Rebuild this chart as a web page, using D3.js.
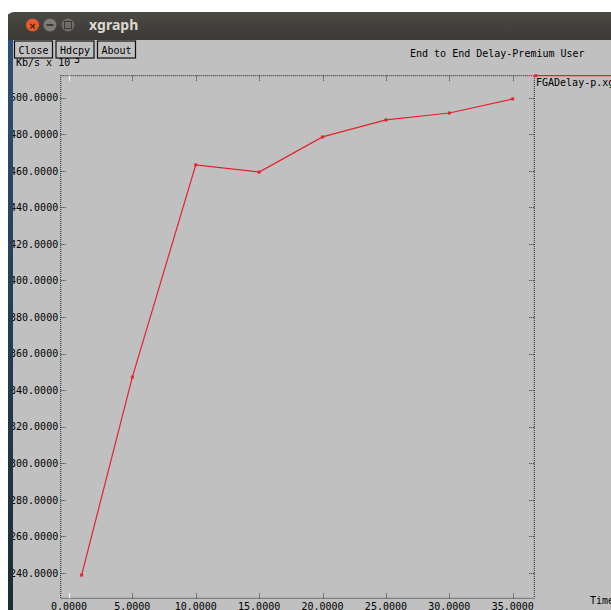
<!DOCTYPE html>
<html>
<head>
<meta charset="utf-8">
<script src="https://cdn.jsdelivr.net/npm/d3@7"></script>
<style>
  html, body { margin: 0; padding: 0; background: #ffffff; }
  svg { display: block; }
  .mono { font-family: "DejaVu Sans Mono", "Liberation Mono", monospace; font-size: 10px; fill: #000; }
</style>
</head>
<body>
<script>
// Series: time (s) vs end-to-end delay, premium user
const times  = [1, 5, 10, 15, 20, 25, 30, 35];
const delays = [238.8, 347.1, 463.2, 459.3, 478.5, 487.8, 491.6, 499.3];

const xTicks = [0, 5, 10, 15, 20, 25, 30, 35];
const yTicks = [240, 260, 280, 300, 320, 340, 360, 380, 400, 420, 440, 460, 480, 500];

const chartTitle = "End to End Delay-Premium User";
const yUnit = "Kb/s x 10";
const yUnitExp = "3";
const xUnit = "Time";
const seriesName = "FGADelay-p.xg";
const windowTitle = "xgraph";
const buttons = ["Close", "Hdcpy", "About"];

const W = 611, H = 610;
const svg = d3.select("body").append("svg").attr("width", W).attr("height", H);

// Desktop strip at the left and window frame
const defs = svg.append("defs");
const desk = defs.append("linearGradient").attr("id", "desk").attr("x1", 0).attr("y1", 0).attr("x2", 0).attr("y2", 1);
desk.append("stop").attr("offset", "0%").attr("stop-color", "#2d4f78");
desk.append("stop").attr("offset", "100%").attr("stop-color", "#1c2c33");
const bar = defs.append("linearGradient").attr("id", "bar").attr("x1", 0).attr("y1", 0).attr("x2", 0).attr("y2", 1);
bar.append("stop").attr("offset", "0%").attr("stop-color", "#4a4944");
bar.append("stop").attr("offset", "100%").attr("stop-color", "#3a3935");
defs.append("clipPath").attr("id", "win").append("rect")
  .attr("x", 13).attr("y", 40).attr("width", W - 13).attr("height", H - 40);

svg.append("rect").attr("x", 8).attr("y", 14).attr("width", 6).attr("height", H - 14).attr("fill", "url(#desk)");
svg.append("path")
  .attr("d", `M8,${40} L8,18 Q8,12 14,12 L${W},12 L${W},40 Z`)
  .attr("fill", "url(#bar)");
svg.append("rect").attr("x", 13).attr("y", 40).attr("width", W - 13).attr("height", H - 40).attr("fill", "#c0c0c0");

// Title bar controls
svg.append("circle").attr("cx", 32.5).attr("cy", 25).attr("r", 6.5).attr("fill", "#e9592a");
svg.append("text").attr("x", 32.5).attr("y", 28.5).attr("text-anchor", "middle")
  .attr("font-family", "DejaVu Sans").attr("font-size", 9).attr("font-weight", "bold").attr("fill", "#3a1a0c").text("×");
svg.append("circle").attr("cx", 50).attr("cy", 25).attr("r", 6.5).attr("fill", "#7c7b76");
svg.append("rect").attr("x", 46.5).attr("y", 24).attr("width", 7).attr("height", 2).attr("fill", "#3b3a36");
svg.append("circle").attr("cx", 68).attr("cy", 25).attr("r", 6.5).attr("fill", "#6d6c67");
svg.append("rect").attr("x", 64.5).attr("y", 21.5).attr("width", 7).attr("height", 7).attr("fill", "none").attr("stroke", "#3b3a36");
svg.append("text").attr("x", 89).attr("y", 30).attr("font-family", "Noto Sans, DejaVu Sans").attr("font-weight", "bold")
  .attr("font-size", 14).attr("fill", "#dcd8cf").text(windowTitle);

const win = svg.append("g").attr("clip-path", "url(#win)");

// Plot frame, in data units
const xMin = -0.65, xMax = 36.7, yMin = 226.1, yMax = 512.0;
const x = d3.scaleLinear().domain([xMin, xMax]).range([60.7, 534.3]);
const y = d3.scaleLinear().domain([yMin, yMax]).range([598.3, 75.7]);

// Axis unit label (partly hidden behind the buttons)
win.append("text").attr("class", "mono").attr("x", 16).attr("y", 66).text(yUnit);
win.append("text").attr("class", "mono").attr("x", 74).attr("y", 63).attr("font-size", 8).text(yUnitExp);

// Buttons
let bx = 14.5;
const bw = [38, 38, 38];
buttons.forEach((b, i) => {
  const g = win.append("g");
  g.append("rect").attr("x", bx).attr("y", 41).attr("width", bw[i]).attr("height", 17)
    .attr("fill", "#c0c0c0").attr("stroke", "#111").attr("stroke-width", 1.2);
  g.append("text").attr("class", "mono").attr("x", bx + bw[i] / 2).attr("y", 53.5)
    .attr("text-anchor", "middle").attr("font-size", 10.5).text(b);
  bx += bw[i] + 3.5;
});

// Chart title
win.append("text").attr("class", "mono").attr("x", 410).attr("y", 57).text(chartTitle);

// Dotted frame
const dot = "1,1";
win.append("rect")
  .attr("x", x(xMin)).attr("y", y(yMax))
  .attr("width", x(xMax) - x(xMin)).attr("height", y(yMin) - y(yMax))
  .attr("fill", "none").attr("stroke", "#222").attr("stroke-dasharray", dot);

// Y ticks on both sides, with labels
yTicks.forEach(v => {
  const yy = Math.round(y(v)) + 0.5;
  win.append("line").attr("x1", x(xMin)).attr("x2", x(xMin) + 5).attr("y1", yy).attr("y2", yy)
    .attr("stroke", "#333").attr("stroke-dasharray", dot);
  win.append("line").attr("x1", x(xMax) - 5).attr("x2", x(xMax)).attr("y1", yy).attr("y2", yy)
    .attr("stroke", "#333").attr("stroke-dasharray", dot);
  win.append("text").attr("class", "mono").attr("x", x(xMin) - 2.5).attr("y", y(v) + 3.8)
    .attr("text-anchor", "end").text(d3.format(".4f")(v));
});

// X ticks on top and bottom, with labels
xTicks.forEach(v => {
  const xx = Math.round(x(v)) + 0.5;
  const col = v === 0 ? "#ffffff" : "#333";
  const dash = v === 0 ? null : dot;
  win.append("line").attr("x1", xx).attr("x2", xx).attr("y1", y(yMin)).attr("y2", y(yMin) - 5)
    .attr("stroke", col).attr("stroke-dasharray", dash);
  win.append("line").attr("x1", xx).attr("x2", xx).attr("y1", y(yMax)).attr("y2", y(yMax) + 5)
    .attr("stroke", col).attr("stroke-dasharray", dash);
  win.append("text").attr("class", "mono").attr("x", x(v)).attr("y", 609.5)
    .attr("text-anchor", "middle").text(d3.format(".4f")(v));
});

// X unit label
win.append("text").attr("class", "mono").attr("x", 590).attr("y", 604).text(xUnit);

// Data line and markers
const red = "#e5222e";
const pts = times.map((t, i) => [t, delays[i]]);
win.append("path").datum(pts)
  .attr("d", d3.line().x(d => x(d[0])).y(d => y(d[1])))
  .attr("fill", "none").attr("stroke", red).attr("stroke-width", 1.2);
win.selectAll("rect.pt").data(pts).enter().append("rect").attr("class", "pt")
  .attr("x", d => x(d[0]) - 1.5).attr("y", d => y(d[1]) - 1.5)
  .attr("width", 3).attr("height", 3).attr("fill", red);

// Legend
const ly = y(yMax);
win.append("line").attr("x1", x(xMax) + 1).attr("x2", W).attr("y1", ly).attr("y2", ly)
  .attr("stroke", red).attr("stroke-width", 1.2);
win.append("rect").attr("x", x(xMax)).attr("y", ly - 1.5).attr("width", 3).attr("height", 3).attr("fill", red);
win.append("text").attr("class", "mono").attr("x", 536).attr("y", 86).text(seriesName);
</script>
</body>
</html>
